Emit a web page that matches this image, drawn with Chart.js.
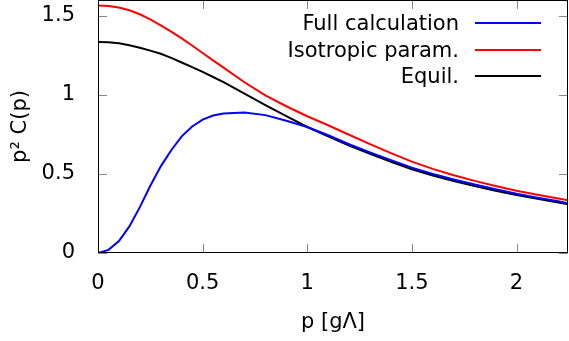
<!DOCTYPE html>
<html>
<head>
<meta charset="utf-8">
<script src="https://cdn.jsdelivr.net/npm/chart.js@4.4.1/dist/chart.umd.min.js"></script>
<style>
  html, body { margin: 0; padding: 0; background: #fff; }
  #wrap { width: 569px; height: 341px; }
</style>
</head>
<body>
<div id="wrap"><canvas id="corr"></canvas></div>
<script>
// momentum grid p [g Lambda]
const pValues = [0, 0.05, 0.1, 0.15, 0.2, 0.25, 0.3, 0.35, 0.4, 0.45, 0.5, 0.55, 0.6,
  0.7, 0.8, 0.9, 1.0, 1.1, 1.2, 1.3, 1.4, 1.5, 1.6, 1.7, 1.8, 1.9, 2.0, 2.1, 2.2, 2.25];

const fullCalc = [0, 0.02, 0.075, 0.168, 0.29, 0.425, 0.548, 0.65, 0.738, 0.8, 0.844, 0.869, 0.882,
  0.888, 0.872, 0.836, 0.797, 0.745, 0.688, 0.636, 0.587, 0.54, 0.5, 0.465, 0.433, 0.403, 0.375, 0.35, 0.327, 0.314];

const isoParam = [1.565, 1.562, 1.552, 1.535, 1.51, 1.477, 1.44, 1.4, 1.357, 1.312, 1.265, 1.218, 1.172,
  1.08, 0.997, 0.928, 0.865, 0.808, 0.748, 0.689, 0.632, 0.578, 0.532, 0.492, 0.456, 0.424, 0.394, 0.369, 0.345, 0.332];

const equil = [1.335, 1.333, 1.326, 1.314, 1.298, 1.28, 1.26, 1.234, 1.205, 1.176, 1.145, 1.113, 1.08,
  1.008, 0.935, 0.865, 0.797, 0.737, 0.68, 0.627, 0.577, 0.53, 0.49, 0.455, 0.423, 0.394, 0.366, 0.343, 0.32, 0.307];

const seriesNames = ['Full calculation', 'Isotropic param.', 'Equil.'];
const seriesColors = ['#0000ff', '#ff0000', '#000000'];

const xTickValues = [0, 0.5, 1, 1.5, 2];
const yTickValues = [0, 0.5, 1, 1.5];

function toPoints(values) {
  return values.map((v, i) => ({ x: pValues[i], y: v }));
}

// frame, inward ticks on all four sides and the key in the top right
const overlay = {
  id: 'overlay',
  afterDraw(chart) {
    const ctx = chart.ctx;
    const a = chart.chartArea;
    const xs = chart.scales.x;
    const ys = chart.scales.y;
    ctx.save();
    ctx.fillStyle = '#888';
    xTickValues.forEach(v => {
      const px = Math.round(xs.getPixelForValue(v));
      ctx.fillRect(px, a.bottom - 9, 1, 9);
      ctx.fillRect(px, a.top, 1, 9);
    });
    yTickValues.forEach(v => {
      const py = Math.round(ys.getPixelForValue(v));
      ctx.fillRect(a.left, py, 9, 1);
      ctx.fillRect(a.right - 9, py, 9, 1);
    });
    ctx.fillStyle = '#000';
    ctx.fillRect(a.left, a.top, a.right - a.left, 1);
    ctx.fillRect(a.left, a.bottom - 1, a.right - a.left, 1);
    ctx.fillRect(a.left, a.top, 1, a.bottom - a.top);
    ctx.fillRect(a.right - 1, a.top, 1, a.bottom - a.top);

    ctx.font = '21px "DejaVu Sans"';
    ctx.textAlign = 'right';
    ctx.textBaseline = 'middle';
    chart.data.datasets.forEach((ds, i) => {
      const yy = 23 + i * 26.5;
      ctx.fillStyle = '#000';
      ctx.fillText(ds.label, 459, yy + 2);
      ctx.fillStyle = ds.borderColor;
      ctx.fillRect(475, Math.round(yy) - 1, 66, 2);
    });
    ctx.restore();
  }
};

document.addEventListener('DOMContentLoaded', () => {
  Chart.defaults.font.family = '"DejaVu Sans"';
  Chart.defaults.font.size = 21;
  Chart.defaults.color = '#000';

  const allSeries = [fullCalc, isoParam, equil];

  new Chart(document.getElementById('corr'), {
    type: 'line',
    data: {
      datasets: allSeries.map((vals, i) => ({
        label: seriesNames[i],
        data: toPoints(vals),
        borderColor: seriesColors[i],
        borderWidth: 2,
        pointRadius: 0,
        fill: false
      }))
    },
    options: {
      responsive: true,
      maintainAspectRatio: false,
      animation: false,
      layout: { padding: { top: 0, right: 1, left: 0, bottom: 0 } },
      plugins: {
        legend: { display: false },
        tooltip: { enabled: false }
      },
      scales: {
        x: {
          type: 'linear',
          min: 0,
          max: 2.246,
          grid: { display: false },
          border: { display: false },
          afterBuildTicks: scale => { scale.ticks = xTickValues.map(v => ({ value: v })); },
          afterFit: scale => {
            scale.height = 88;
            scale.paddingLeft = 0;
            scale.paddingRight = 0;
          },
          ticks: { padding: 10, callback: v => String(v) },
          title: { display: true, text: 'p [gΛ]', padding: { top: 0, bottom: 6 } }
        },
        y: {
          min: 0,
          max: 1.6,
          grid: { display: false },
          border: { display: false },
          afterBuildTicks: scale => { scale.ticks = yTickValues.map(v => ({ value: v })); },
          afterFit: scale => {
            scale.width = 98;
            scale.paddingTop = 0;
            scale.paddingBottom = 0;
          },
          ticks: { padding: 15, callback: v => String(v) },
          title: { display: true, text: 'p² C(p)', padding: { top: 8, bottom: 0 } }
        }
      }
    },
    plugins: [overlay]
  });
});
</script>
</body>
</html>
